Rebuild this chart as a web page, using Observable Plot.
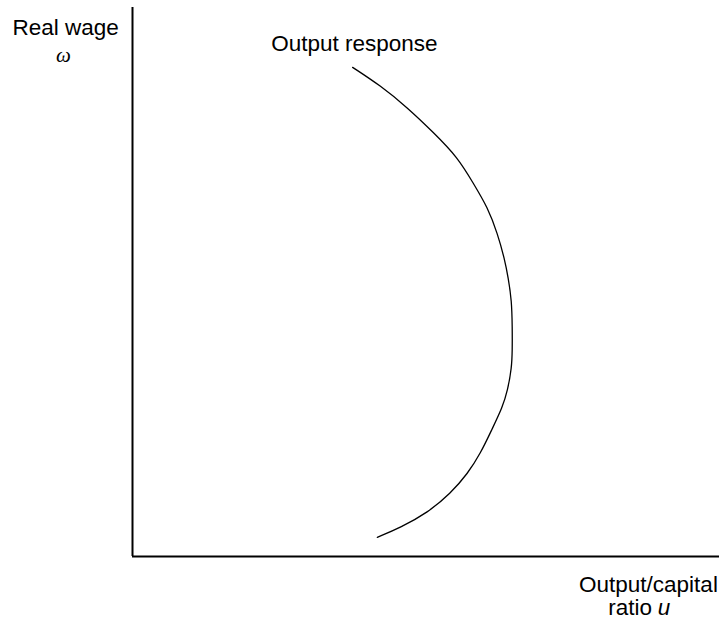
<!DOCTYPE html>
<html>
<head>
<meta charset="utf-8">
<script src="https://cdn.jsdelivr.net/npm/d3@7"></script>
<script src="https://cdn.jsdelivr.net/npm/@observablehq/plot@0.6"></script>
<style>
  html, body { margin: 0; padding: 0; background: #fff; }
  #chart { width: 721px; height: 621px; }
</style>
</head>
<body>
<div id="chart"></div>
<script>
// Output response curve: output/capital ratio u (x) vs real wage ω (y), arbitrary 0–100 units
const curveU = [37.5, 42.2, 46.8, 51.3, 55.4, 58.1, 60.5, 62.2, 63.4, 64.0, 64.6, 64.7, 64.7, 64.6, 63.9, 63.0, 61.3, 59.3, 57.1, 54.2, 50.3, 45.7, 41.7];
const curveW = [89.1, 85.8, 81.8, 77.2, 72.7, 67.9, 63.6, 58.8, 54.1, 50.8, 46.6, 41.7, 37.5, 34.4, 30.2, 27.1, 23.3, 18.8, 15.1, 11.5, 8.0, 5.3, 3.5];

const curveLabel = "Output response";
const yLabel = "Real wage";
const ySymbol = "ω";
const xLabel1 = "Output/capital";
const xLabel2 = "ratio";
const xSymbol = "u";

const data = curveU.map((u, i) => ({u, w: curveW[i]}));

const sans = "Liberation Sans, Arial, Helvetica, sans-serif";
const serif = "Liberation Serif, Times New Roman, serif";

const chart = Plot.plot({
  width: 721,
  height: 621,
  marginLeft: 132,
  marginRight: 2,
  marginTop: 7,
  marginBottom: 65,
  x: {domain: [0, 100], axis: null},
  y: {domain: [0, 100], axis: null},
  style: {background: "#fff", fontFamily: sans},
  marks: [
    Plot.ruleX([0], {y1: 0, y2: 100, stroke: "#000", strokeWidth: 2}),
    Plot.ruleY([0], {x1: 0, x2: 100, stroke: "#000", strokeWidth: 2}),
    Plot.line(data, {x: "u", y: "w", curve: "basis", stroke: "#000", strokeWidth: 1.3}),
    Plot.text([curveLabel], {x: 37.8, y: 92.0, text: d => d, lineAnchor: "bottom", textAnchor: "middle", fontSize: 22.5, fontFamily: sans, fill: "#000"}),
    Plot.text([yLabel], {x: -11.4, y: 94.9, text: d => d, lineAnchor: "bottom", textAnchor: "middle", fontSize: 22.5, fontFamily: sans, fill: "#000"}),
    Plot.text([ySymbol], {x: -11.75, y: 90.1, text: d => d, lineAnchor: "bottom", textAnchor: "middle", fontSize: 21, fontFamily: serif, fontStyle: "italic", fill: "#000"}),
    Plot.text([xLabel1], {x: 87.9, y: -6.4, text: d => d, lineAnchor: "bottom", textAnchor: "middle", fontSize: 22.5, fontFamily: sans, fill: "#000"}),
    Plot.text([xLabel2], {x: 88.5, y: -10.6, text: d => d, lineAnchor: "bottom", textAnchor: "end", fontSize: 22.5, fontFamily: sans, fill: "#000"}),
    Plot.text([xSymbol], {x: 89.5, y: -10.6, text: d => d, lineAnchor: "bottom", textAnchor: "start", fontSize: 22.5, fontFamily: sans, fontStyle: "italic", fill: "#000"})
  ]
});
document.getElementById("chart").appendChild(chart);
</script>
</body>
</html>
